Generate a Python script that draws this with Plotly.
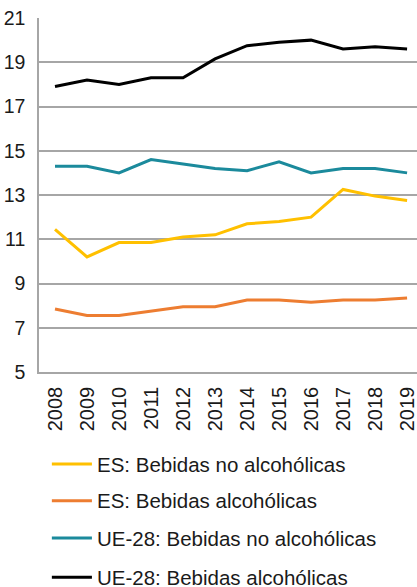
import plotly.graph_objects as go

years = [2008, 2009, 2010, 2011, 2012, 2013, 2014, 2015, 2016, 2017, 2018, 2019]
year_labels = [str(y) for y in years]

es_no_alcoholicas = [11.45, 10.2, 10.85, 10.85, 11.1, 11.2, 11.7, 11.8, 12.0, 13.25, 12.95, 12.75]
es_alcoholicas = [7.85, 7.55, 7.55, 7.75, 7.95, 7.95, 8.25, 8.25, 8.15, 8.25, 8.25, 8.35]
ue_no_alcoholicas = [14.3, 14.3, 14.0, 14.6, 14.4, 14.2, 14.1, 14.5, 14.0, 14.2, 14.2, 14.0]
ue_alcoholicas = [17.9, 18.2, 18.0, 18.3, 18.3, 19.15, 19.75, 19.9, 20.0, 19.6, 19.7, 19.6]

y_ticks = [5, 7, 9, 11, 13, 15, 17, 19, 21]

series = [
    ("ES: Bebidas no alcohólicas", es_no_alcoholicas, "#FFC000"),
    ("ES: Bebidas alcohólicas", es_alcoholicas, "#ED7D31"),
    ("UE-28: Bebidas no alcohólicas", ue_no_alcoholicas, "#1B8A9C"),
    ("UE-28: Bebidas alcohólicas", ue_alcoholicas, "#000000"),
]

font_family = "Liberation Sans, Arial, Helvetica, sans-serif"
text_color = "#1a1a1a"

fig = go.Figure()
for name, vals, color in series:
    fig.add_trace(go.Scatter(
        x=years, y=vals, name=name, mode="lines",
        line=dict(color=color, width=3),
        showlegend=False,
    ))

# Legend drawn below the plot: a short line sample and the series name per row
legend_rows_y = [-0.26, -0.364, -0.469, -0.58]
shapes = []
annotations = []
for (name, _, color), ly in zip(series, legend_rows_y):
    shapes.append(dict(
        type="line", xref="paper", yref="paper",
        x0=0.034, x1=0.140, y0=ly, y1=ly,
        line=dict(color=color, width=3),
    ))
    annotations.append(dict(
        xref="paper", yref="paper", x=0.147, y=ly,
        xanchor="left", yanchor="middle", showarrow=False,
        text=name, font=dict(size=20.5, family=font_family, color=text_color),
    ))

fig.update_layout(
    width=417, height=587,
    margin=dict(l=39, r=0, t=18, b=215, autoexpand=False),
    paper_bgcolor="white", plot_bgcolor="white",
    font=dict(family=font_family, color=text_color),
    showlegend=False,
    shapes=shapes,
    annotations=annotations,
    xaxis=dict(
        range=[2007.5, 2019.31],
        tickmode="array", tickvals=years, ticktext=year_labels,
        tickangle=-90,
        tickfont=dict(size=20),
        ticklabeloverflow="allow",
        ticklabelstandoff=5,
        showgrid=False, zeroline=False,
        showline=True, linecolor="#A6A6A6", linewidth=1.5,
        ticks="",
    ),
    yaxis=dict(
        range=[5, 21],
        tickmode="array", tickvals=y_ticks,
        tickfont=dict(size=19.5),
        showgrid=True, gridcolor="#A6A6A6", gridwidth=1.5,
        zeroline=False,
        showline=True, linecolor="#A6A6A6", linewidth=1.5,
        ticks="",
        ticklabelstandoff=8,
    ),
)

fig.write_html("out.html")
